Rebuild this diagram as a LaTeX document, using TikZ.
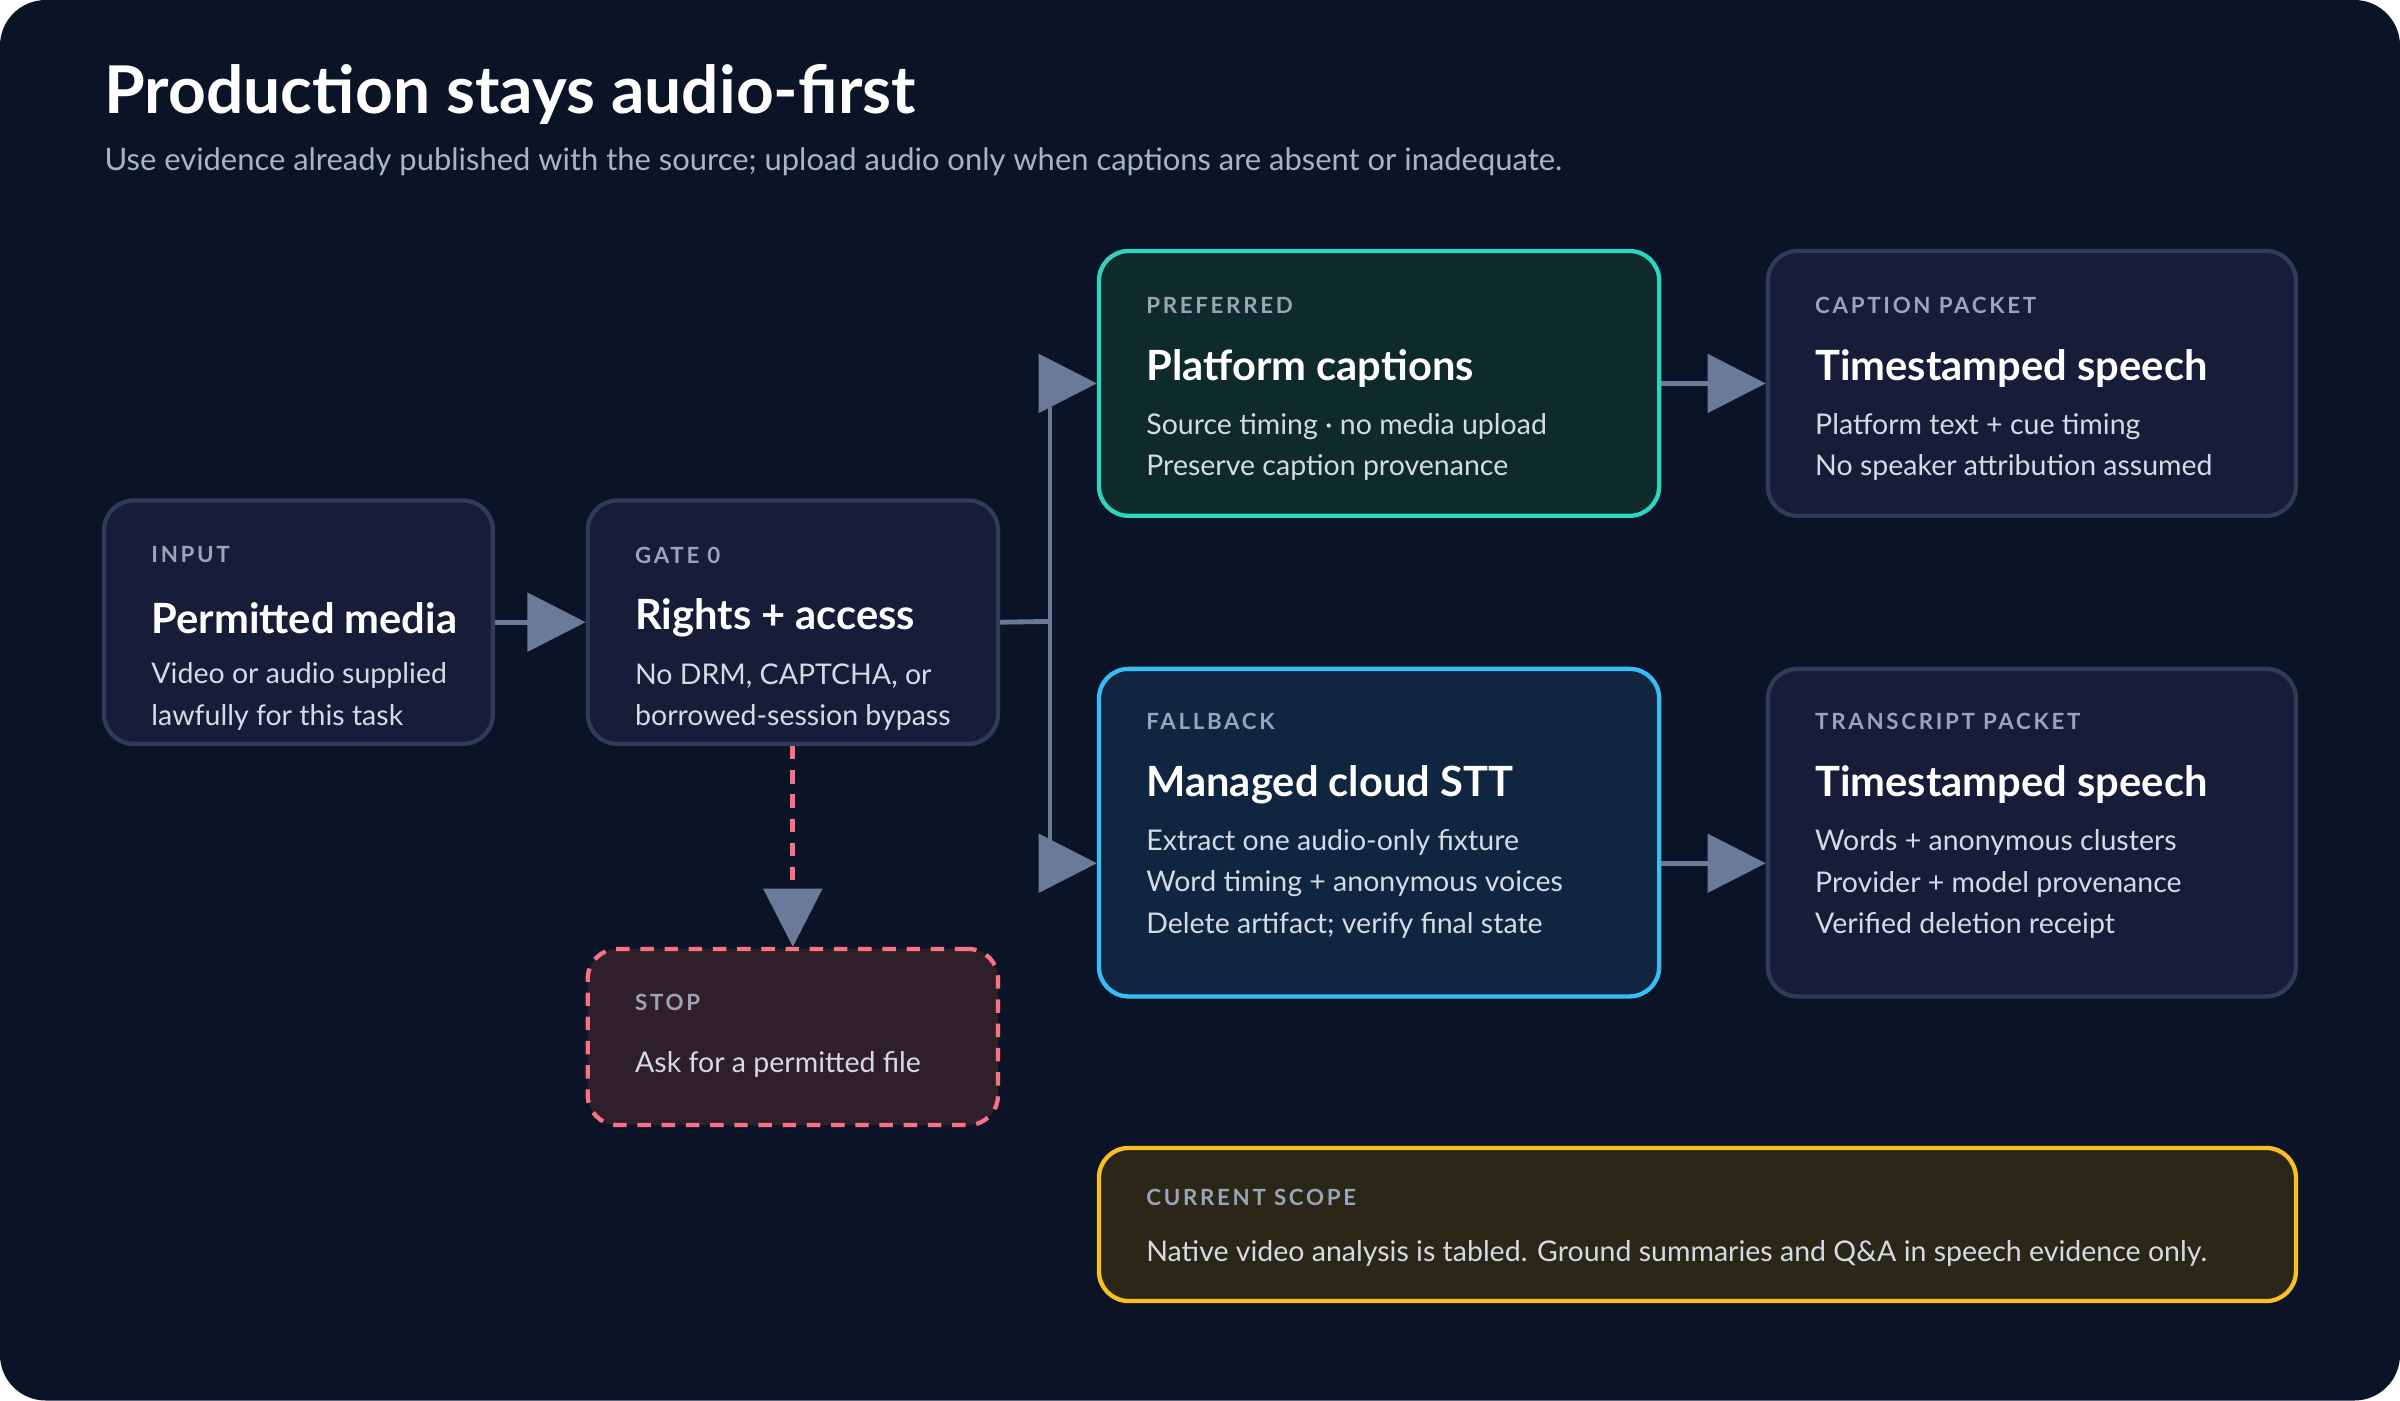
\documentclass[tikz,border=0pt]{standalone}
\usepackage{fontspec}
\setmainfont{Lato}
\newfontfamily\tagfont[LetterSpace=12]{Lato Bold}
\usetikzlibrary{arrows.meta,fit,calc}

\definecolor{bgcol}{HTML}{0B1426}
\definecolor{cardfill}{HTML}{171C38}
\definecolor{cardline}{HTML}{2F3B57}
\definecolor{tagcol}{HTML}{9AA5B8}
\definecolor{bodycol}{HTML}{D5DBE5}
\definecolor{subcol}{HTML}{A9B4C6}
\definecolor{flowcol}{HTML}{6B7A99}
\definecolor{tealline}{HTML}{2DD4BF}
\definecolor{tealfill}{HTML}{0F2A2A}
\definecolor{skyline}{HTML}{38BDF8}
\definecolor{skyfill}{HTML}{0F2540}
\definecolor{stopline}{HTML}{F87185}
\definecolor{stopfill}{HTML}{2F1F2A}
\definecolor{goldline}{HTML}{FBBF24}
\definecolor{goldfill}{HTML}{2A2718}

\tikzset{
  box/.style={draw=cardline, fill=cardfill, line width=1.6pt, rounded corners=11pt, inner sep=0pt},
  tag/.style={anchor=west, text=tagcol, font=\tagfont\fontsize{8.3}{10}\selectfont, inner sep=0pt},
  head/.style={anchor=west, text=white, font=\bfseries\fontsize{15.5}{18}\selectfont, inner sep=0pt},
  body/.style={anchor=west, text=bodycol, font=\fontsize{10.6}{12}\selectfont, inner sep=0pt},
  flow/.style={draw=flowcol, line width=1.8pt, -{Triangle[length=0.76cm,width=0.76cm,color=flowcol]}},
}

\begin{document}
\begin{tikzpicture}[x=0.02cm, y=-0.02cm]
  \useasboundingbox (0,0) rectangle (1568,915);
  \fill[bgcol, rounded corners=17pt] (0,0) rectangle (1568,915);

  % heading
  \node[anchor=west, text=white, font=\bfseries\fontsize{24.5}{28}\selectfont, inner sep=0pt] (title) at (68,62) {Production stays audio-first};
  \node[anchor=west, text=subcol, font=\fontsize{11.5}{13}\selectfont, inner sep=0pt] (subtitle) at (68,106) {Use evidence already published with the source; upload audio only when captions are absent or inadequate.};

  % cards
  \node[box, fit={(68,327)(322,486)}] (inp) {};
  \node[box, fit={(384,327)(652,486)}] (gate) {};
  \node[box, draw=tealline, fill=tealfill, fit={(718,164)(1084,337)}] (pref) {};
  \node[box, fit={(1155,164)(1500,337)}] (cap) {};
  \node[box, draw=skyline, fill=skyfill, fit={(718,437)(1084,651)}] (fall) {};
  \node[box, fit={(1155,437)(1500,651)}] (trans) {};
  \node[box, draw=stopline, fill=stopfill, dashed, dash pattern=on 5pt off 4pt, fit={(384,620)(652,735)}] (stop) {};
  \node[box, draw=goldline, fill=goldfill, fit={(718,750)(1500,850)}] (scope) {};

  % card texts
  \node[tag]  at ([shift={(32,37)}]inp.north west) {INPUT};
  \node[head] at ([shift={(32,78)}]inp.north west) {Permitted media};
  \node[body] at ([shift={(32,116)}]inp.north west) {Video or audio supplied};
  \node[body] at ([shift={(32,143)}]inp.north west) {lawfully for this task};

  \node[tag]  at ([shift={(32,37)}]gate.north west) {GATE 0};
  \node[head] at ([shift={(32,78)}]gate.north west) {Rights + access};
  \node[body] at ([shift={(32,116)}]gate.north west) {No DRM, CAPTCHA, or};
  \node[body] at ([shift={(32,143)}]gate.north west) {borrowed-session bypass};

  \node[tag]  at ([shift={(32,37)}]pref.north west) {PREFERRED};
  \node[head] at ([shift={(32,78)}]pref.north west) {Platform captions};
  \node[body] at ([shift={(32,116)}]pref.north west) {Source timing · no media upload};
  \node[body] at ([shift={(32,143)}]pref.north west) {Preserve caption provenance};

  \node[tag]  at ([shift={(32,37)}]cap.north west) {CAPTION PACKET};
  \node[head] at ([shift={(32,78)}]cap.north west) {Timestamped speech};
  \node[body] at ([shift={(32,116)}]cap.north west) {Platform text + cue timing};
  \node[body] at ([shift={(32,143)}]cap.north west) {No speaker attribution assumed};

  \node[tag]  at ([shift={(32,36)}]fall.north west) {FALLBACK};
  \node[head] at ([shift={(32,77)}]fall.north west) {Managed cloud STT};
  \node[body] at ([shift={(32,115)}]fall.north west) {Extract one audio-only fixture};
  \node[body] at ([shift={(32,142)}]fall.north west) {Word timing + anonymous voices};
  \node[body] at ([shift={(32,169)}]fall.north west) {Delete artifact; verify final state};

  \node[tag]  at ([shift={(32,36)}]trans.north west) {TRANSCRIPT PACKET};
  \node[head] at ([shift={(32,77)}]trans.north west) {Timestamped speech};
  \node[body] at ([shift={(32,115)}]trans.north west) {Words + anonymous clusters};
  \node[body] at ([shift={(32,142)}]trans.north west) {Provider + model provenance};
  \node[body] at ([shift={(32,169)}]trans.north west) {Verified deletion receipt};

  \node[tag]  at ([shift={(32,36)}]stop.north west) {STOP};
  \node[body] at ([shift={(32,77)}]stop.north west) {Ask for a permitted file};

  \node[tag]  at ([shift={(32,34)}]scope.north west) {CURRENT SCOPE};
  \node[body] at ([shift={(32,70)}]scope.north west) {Native video analysis is tabled. Ground summaries and Q\&A in speech evidence only.};

  % connectors
  \coordinate (split) at (686,406);
  \draw[flow] (inp.east) -- (gate.east -| gate.west);
  \draw[draw=flowcol, line width=1.8pt] (gate.east) -- (split);
  \draw[flow] (split) |- (pref.west);
  \draw[flow] (split) |- ([yshift=-0.4cm]fall.west);
  \draw[flow] (pref.east) -- (cap.west);
  \draw[flow] ([yshift=-0.4cm]fall.east) -- ([yshift=-0.4cm]trans.west);
  \draw[flow, draw=stopline, dash pattern=on 5pt off 4pt] (gate.south) -- (stop.north);
\end{tikzpicture}
\end{document}
